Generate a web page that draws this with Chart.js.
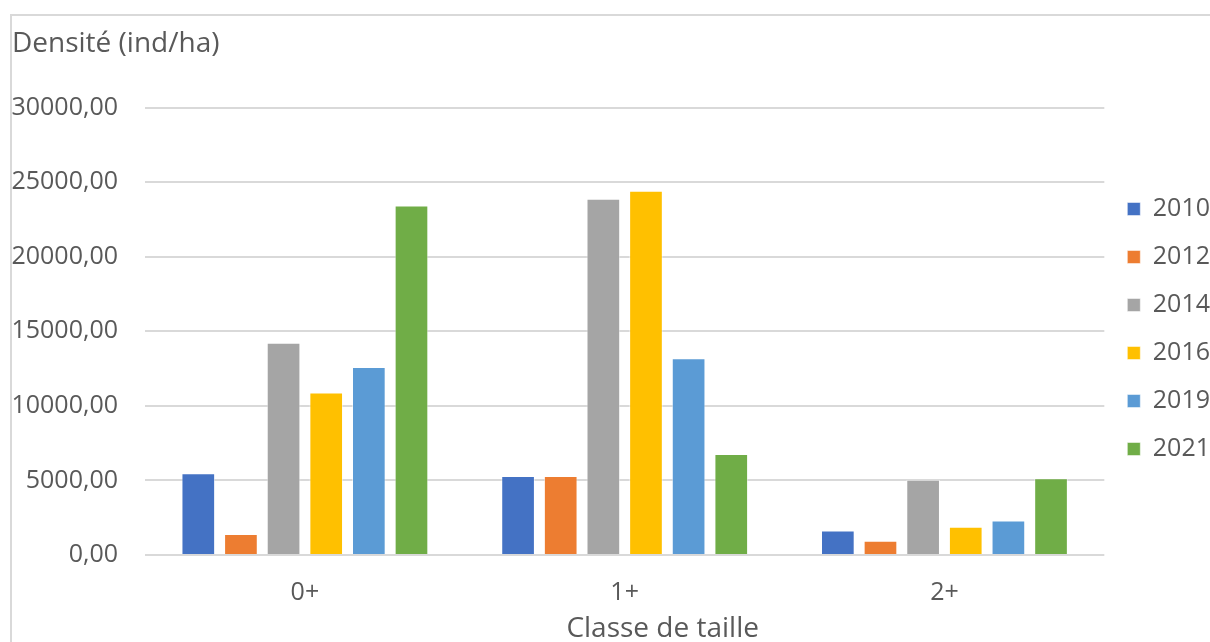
<!DOCTYPE html>
<html>
<head>
<meta charset="utf-8">
<script src="https://cdn.jsdelivr.net/npm/chart.js@4/dist/chart.umd.min.js"></script>
<style>
  html, body { margin: 0; padding: 0; background: #fff; overflow: hidden; }
  #frame {
    position: absolute; left: 10px; top: 14px;
    width: 1200px; height: 628px;
    border-top: 2px solid #d9d9d9; border-left: 2px solid #d9d9d9;
  }
  #chart { display: block; }
</style>
</head>
<body>
<div id="frame"><canvas id="chart" width="1198" height="626"></canvas></div>
<script>
// Données
const categories = ['0+', '1+', '2+'];
const years = ['2010', '2012', '2014', '2016', '2019', '2021'];
const d2010 = [5480, 5300, 1650];
const d2012 = [1410, 5300, 960];
const d2014 = [14240, 23890, 5050];
const d2016 = [10900, 24430, 1900];
const d2019 = [12600, 13200, 2320];
const d2021 = [23440, 6770, 5150];
const yTicks = [0, 5000, 10000, 15000, 20000, 25000, 30000];
const xTitle = 'Classe de taille';

const colors = ['#4472c4', '#ed7d31', '#a5a5a5', '#ffc000', '#5b9bd5', '#70ad47'];
const series = [d2010, d2012, d2014, d2016, d2019, d2021];

const textColor = '#595959';
const font = { family: 'Open Sans', size: 25 };

const datasets = years.map((year, i) => ({
    label: year,
    data: series[i],
    backgroundColor: colors[i],
    borderColor: 'rgba(255,255,255,0.5)',
    borderWidth: 1,
    categoryPercentage: 0.8,
    barPercentage: 0.79
}));

// formatage à la française : virgule décimale
function formatTick(v) {
    return v.toFixed(2).replace('.', ',');
}

// titre de l'axe X, un peu décalé vers la droite comme dans Excel
const xTitlePlugin = {
    id: 'xTitle',
    afterDraw(chart) {
        const { ctx, chartArea } = chart;
        ctx.save();
        ctx.font = '28px "Open Sans"';
        ctx.fillStyle = textColor;
        ctx.textAlign = 'center';
        ctx.textBaseline = 'alphabetic';
        ctx.fillText(xTitle, (chartArea.left + chartArea.right) / 2 + 38, chart.height - 5);
        ctx.restore();
    }
};

new Chart(document.getElementById('chart'), {
    type: 'bar',
    data: { labels: categories, datasets: datasets },
    options: {
        responsive: false,
        animation: false,
        layout: { padding: { left: 0, right: -10, top: 0, bottom: 0 } },
        plugins: {
            title: {
                display: true,
                text: 'Densité (ind/ha)',
                align: 'start',
                color: textColor,
                font: { family: 'Open Sans', size: 28, weight: 'normal' },
                padding: { top: 11, bottom: 47 }
            },
            legend: {
                position: 'right',
                labels: {
                    color: textColor,
                    font: font,
                    boxWidth: 13,
                    boxHeight: 13,
                    padding: 23
                }
            },
            tooltip: { enabled: false }
        },
        scales: {
            x: {
                grid: { display: false, drawTicks: false },
                border: { display: false },
                ticks: { color: textColor, font: font, padding: 23 },
                afterFit: (axis) => { axis.height = 87; }
            },
            y: {
                min: 0,
                max: 30000,
                afterBuildTicks: (axis) => {
                    axis.ticks = yTicks.map(v => ({ value: v }));
                },
                grid: { color: '#d9d9d9', lineWidth: 2, drawTicks: false },
                border: { display: false },
                ticks: {
                    color: textColor,
                    font: font,
                    padding: 27,
                    callback: (v) => formatTick(v)
                },
                afterFit: (axis) => { axis.width = 133; }
            }
        }
    },
    plugins: [xTitlePlugin]
});
</script>
</body>
</html>
